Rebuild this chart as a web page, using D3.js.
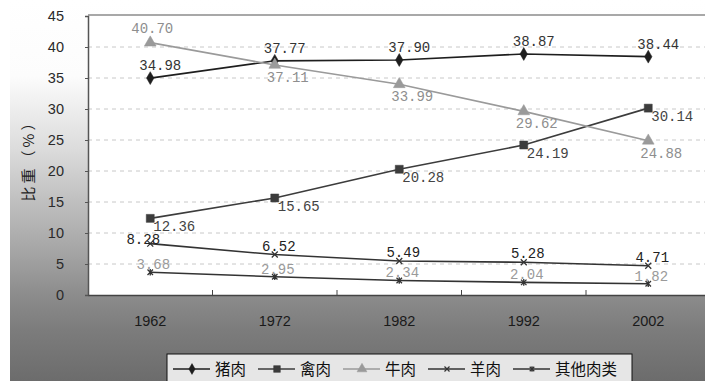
<!DOCTYPE html>
<html>
<head>
<meta charset="utf-8">
<script src="https://cdn.jsdelivr.net/npm/d3@7"></script>
<style>
  html, body { margin: 0; padding: 0; background: #fff; }
  svg { display: block; }
</style>
</head>
<body>
<svg id="chart" width="705" height="381"></svg>
<script>
// Share of meat types in total meat consumption, 1962–2002 (%)
const years = ["1962", "1972", "1982", "1992", "2002"];
const yTicks = [0, 5, 10, 15, 20, 25, 30, 35, 40, 45];
const seriesNames = ["猪肉", "禽肉", "牛肉", "羊肉", "其他肉类"];
const pork    = [34.98, 37.77, 37.90, 38.87, 38.44];
const poultry = [12.36, 15.65, 20.28, 24.19, 30.14];
const beef    = [40.70, 37.11, 33.99, 29.62, 24.88];
const mutton  = [8.28, 6.52, 5.49, 5.28, 4.71];
const other   = [3.68, 2.95, 2.34, 2.04, 1.82];
const yTitle = "比重（%）";

const W = 705, H = 381;
const plot = { left: 88, right: 710.5, top: 16, bottom: 295 };

const svg = d3.select("#chart");

// custom marker shapes
const symX = {
  draw(ctx, size) {
    const r = Math.sqrt(size) / 2;
    ctx.moveTo(-r, -r); ctx.lineTo(r, r);
    ctx.moveTo(r, -r); ctx.lineTo(-r, r);
  }
};
const symStar = {
  draw(ctx, size) {
    const r = Math.sqrt(size) / 2;
    ctx.moveTo(-r, -r); ctx.lineTo(r, r);
    ctx.moveTo(r, -r); ctx.lineTo(-r, r);
    ctx.moveTo(0, -r * 1.2); ctx.lineTo(0, r * 1.2);
  }
};

const series = [
  { name: seriesNames[0], values: pork,    line: "#1e1e1e", label: "#333", sym: d3.symbolDiamond,  size: 48, filled: true,
    lab: (i) => ({ dx: 10, dy: -8, anchor: "middle" }) },
  { name: seriesNames[1], values: poultry, line: "#3c3c3c", label: "#444", sym: d3.symbolSquare,   size: 64, filled: true,
    lab: (i) => ({ dx: 3, dy: 13, anchor: "start" }) },
  { name: seriesNames[2], values: beef,    line: "#9a9a9a", label: "#8e8e8e", sym: d3.symbolTriangle, size: 60, filled: true,
    lab: (i) => i === 0 ? { dx: 2, dy: -10, anchor: "middle" } : { dx: 13, dy: 17, anchor: "middle" } },
  { name: seriesNames[3], values: mutton,  line: "#333", label: "#222", sym: symX,    size: 36, filled: false,
    lab: (i) => ({ dx: i === 0 ? -7 : 4, dy: i === 0 ? 0 : -4, anchor: "middle" }) },
  { name: seriesNames[4], values: other,   line: "#333", label: "#9a9a9a", sym: symStar, size: 30, filled: false,
    lab: (i) => ({ dx: 3, dy: -3, anchor: "middle" }) }
];

// background
const defs = svg.append("defs");
const grad = defs.append("linearGradient").attr("id", "bg").attr("x1", 0).attr("y1", 0).attr("x2", 0).attr("y2", 1);
[[0, "#ffffff"], [0.2, "#fcfcfc"], [0.24, "#f5f5f5"], [0.39, "#dcdcdc"], [0.525, "#c0c0c0"],
 [0.656, "#a6a6a6"], [0.774, "#8c8c8c"], [0.866, "#7c7c7c"], [1, "#6c6c6c"]].forEach(([o, c]) =>
  grad.append("stop").attr("offset", o).attr("stop-color", c));

svg.append("rect").attr("x", 0).attr("y", 0).attr("width", W).attr("height", H).attr("fill", "#fff");
svg.append("rect").attr("x", 10).attr("y", 0).attr("width", W - 10).attr("height", H).attr("fill", "url(#bg)");
svg.append("rect").attr("x", plot.left).attr("y", plot.top - 1)
  .attr("width", W - plot.left).attr("height", plot.bottom - plot.top + 1).attr("fill", "#fff");

// scales
const x = d3.scaleBand().domain(years).range([plot.left, plot.right]).paddingInner(0).paddingOuter(0);
const y = d3.scaleLinear().domain([0, 45]).range([plot.bottom, plot.top]);
const cx = (yr) => x(yr) + x.bandwidth() / 2;

// gridlines
svg.append("g").selectAll("line").data(yTicks.filter(t => t > 0 && t < 45)).join("line")
  .attr("x1", plot.left).attr("x2", W)
  .attr("y1", d => y(d)).attr("y2", d => y(d))
  .attr("stroke", "#c8c8c8").attr("stroke-width", 1).attr("stroke-dasharray", "4,4");

// top border
svg.append("line").attr("x1", plot.left).attr("x2", W).attr("y1", y(45) - 1).attr("y2", y(45) - 1)
  .attr("stroke", "#a8a8a8").attr("stroke-width", 2);

// y axis
const yAxis = svg.append("g").attr("transform", `translate(${plot.left},0)`)
  .call(d3.axisLeft(y).tickValues(yTicks).tickSize(3).tickPadding(21).tickFormat(d3.format("d")));
yAxis.select(".domain").attr("stroke", "#555").attr("stroke-width", 1.5);
yAxis.selectAll(".tick line").attr("stroke", "#555");
yAxis.selectAll(".tick text").attr("fill", "#2a2a2a")
  .style("font-family", "'Liberation Sans', Arial, sans-serif").style("font-size", "14.5px");

// x axis
const xAxis = svg.append("g").attr("transform", `translate(0,${plot.bottom})`)
  .call(d3.axisBottom(x).tickSize(0).tickPadding(21));
xAxis.select(".domain").attr("stroke", "#444").attr("stroke-width", 1.5);
xAxis.selectAll(".tick text").attr("fill", "#1a1a1a")
  .style("font-family", "'Liberation Sans', Arial, sans-serif").style("font-size", "14.5px");
// category separator ticks
svg.append("g").selectAll("line").data(years.slice(1)).join("line")
  .attr("x1", d => x(d)).attr("x2", d => x(d))
  .attr("y1", plot.bottom).attr("y2", plot.bottom - 5)
  .attr("stroke", "#444").attr("stroke-width", 1);

// y title
svg.append("text")
  .attr("transform", `translate(34,157) rotate(-90)`)
  .attr("text-anchor", "middle")
  .attr("fill", "#222")
  .style("font-family", "'Noto Sans CJK SC', sans-serif").style("font-size", "15px")
  .style("letter-spacing", "3px")
  .text(yTitle);

// lines, markers, labels
const lineGen = d3.line().x((d, i) => cx(years[i])).y(d => y(d));

series.forEach(s => {
  const g = svg.append("g");
  g.append("path").datum(s.values).attr("d", lineGen)
    .attr("fill", "none").attr("stroke", s.line).attr("stroke-width", 1.6);
  const sym = d3.symbol().type(s.sym).size(s.size);
  g.selectAll("path.m").data(s.values).join("path").attr("class", "m")
    .attr("transform", (d, i) => `translate(${cx(years[i])},${y(d)})`)
    .attr("d", sym)
    .attr("fill", s.filled ? s.line : "none")
    .attr("stroke", s.line).attr("stroke-width", s.filled ? 0.5 : 1.3);
  g.selectAll("text").data(s.values).join("text")
    .attr("x", (d, i) => cx(years[i]) + s.lab(i).dx)
    .attr("y", (d, i) => y(d) + s.lab(i).dy)
    .attr("text-anchor", (d, i) => s.lab(i).anchor)
    .attr("fill", s.label)
    .style("font-family", "'Liberation Mono', 'DejaVu Sans Mono', monospace")
    .style("font-size", "14px")
    .text(d => d.toFixed(2));
});

// legend
const leg = { x: 167, y: 354, w: 465, h: 40 };
svg.append("rect").attr("x", leg.x).attr("y", leg.y).attr("width", leg.w).attr("height", leg.h)
  .attr("fill", "#e6e6e6").attr("stroke", "#111").attr("stroke-width", 1);
const legItems = svg.append("g").selectAll("g").data(series).join("g")
  .attr("transform", (d, i) => `translate(${leg.x + 6 + i * 85},${leg.y + 15})`);
legItems.append("line").attr("x1", 0).attr("x2", 37).attr("y1", 0).attr("y2", 0)
  .attr("stroke", d => d.line).attr("stroke-width", 1.5);
legItems.append("path").attr("transform", "translate(19,0)")
  .attr("d", d => d3.symbol().type(d.sym).size(d.size * 0.7)())
  .attr("fill", d => d.filled ? d.line : "none")
  .attr("stroke", d => d.line).attr("stroke-width", d => d.filled ? 0.5 : 1.2);
legItems.append("text").attr("x", 42).attr("y", 5.5)
  .attr("fill", "#111")
  .style("font-family", "'Noto Sans CJK SC', sans-serif").style("font-size", "15.5px")
  .text(d => d.name);
</script>
</body>
</html>
